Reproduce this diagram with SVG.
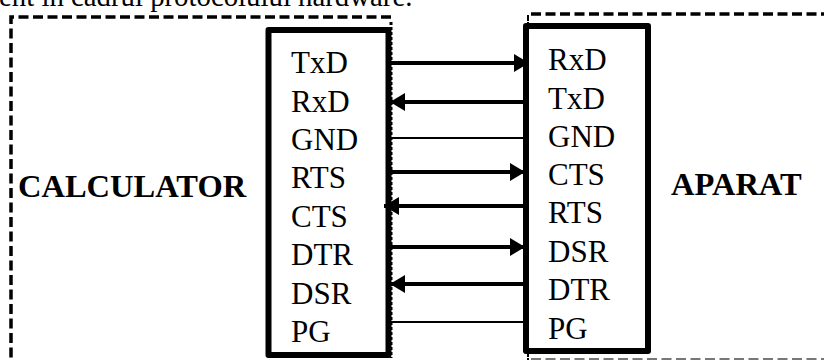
<svg xmlns="http://www.w3.org/2000/svg" width="824" height="360" viewBox="0 0 824 360">
<style>
text{font-family:"Liberation Serif","Times New Roman",serif;fill:#000}
.l{font-size:31px}
.t{font-size:28.8px}
.b{font-size:32.5px;font-weight:bold}
.box{fill:none;stroke:#000;stroke-width:6px;stroke-linejoin:round}
.d{fill:none;stroke:#000;stroke-width:3.5px;stroke-dasharray:10 4.5}
.w{stroke:#000;stroke-width:4px;fill:none}
.n{stroke:#000;stroke-width:2px;fill:none}
</style>
<defs>
<marker id="a" markerUnits="userSpaceOnUse" markerWidth="16" markerHeight="18" refX="15" refY="9" orient="auto"><path d="M0 0L15 9L0 18Z" fill="#000"/></marker>
</defs>
<rect width="824" height="360" fill="#fff"/>
<text class="t" x="-1" y="6">ent în cadrul protocolului hardware.</text>
<g id="calculator">
<path class="d" d="M391 17H11V360"/>
<path d="M391 22V358" fill="none" stroke="#000" stroke-width="3" stroke-dasharray="3 2"/>
<rect class="box" x="268.500" y="30" width="120" height="325"/>
<text class="b" x="18" y="197">CALCULATOR</text>
<text class="l" x="291" y="73">TxD</text>
<text class="l" x="291" y="112">RxD</text>
<text class="l" x="291" y="150">GND</text>
<text class="l" x="291" y="188">RTS</text>
<text class="l" x="291" y="227">CTS</text>
<text class="l" x="291" y="265">DTR</text>
<text class="l" x="291" y="304">DSR</text>
<text class="l" x="291" y="342">PG</text>
</g>
<g id="aparat">
<path class="d" d="M531 14H824"/>
<path class="d" d="M531 359H824" style="stroke:#777;stroke-width:2px"/>
<path d="M528 15V360" fill="none" stroke="#000" stroke-width="2" stroke-dasharray="6 1"/>
<rect class="box" x="526" y="26" width="122" height="325"/>
<text class="b" x="671" y="195">APARAT</text>
<text class="l" x="548" y="70">RxD</text>
<text class="l" x="548" y="109">TxD</text>
<text class="l" x="548" y="147">GND</text>
<text class="l" x="548" y="185">CTS</text>
<text class="l" x="548" y="223">RTS</text>
<text class="l" x="548" y="262">DSR</text>
<text class="l" x="548" y="300">DTR</text>
<text class="l" x="548" y="339">PG</text>
</g>
<g id="connectors">
<path class="w" marker-end="url(#a)" d="M391 63H529"/>
<path class="w" marker-end="url(#a)" d="M524 102H390"/>
<path class="n" d="M391 138H526"/>
<path class="w" marker-end="url(#a)" d="M391 172H525"/>
<path class="w" marker-end="url(#a)" d="M524 206H384"/>
<path class="w" marker-end="url(#a)" d="M391 247H525"/>
<path class="w" marker-end="url(#a)" d="M524 284H390"/>
<path class="n" d="M391 322H526"/>
</g>
</svg>
